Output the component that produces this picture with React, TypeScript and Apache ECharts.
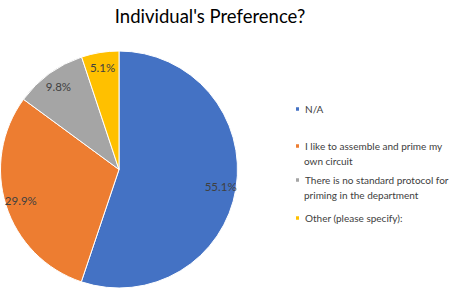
import React, { useEffect, useRef } from "react";
import * as echarts from "echarts";

const categories = [
  "N/A",
  "I like to assemble and prime my own circuit",
  "There is no standard protocol for priming in the department",
  "Other (please specify):",
];
const values = [55.1, 29.9, 9.8, 5.1];
const colors = ["#4472C4", "#ED7D31", "#A5A5A5", "#FFC000"];
const legendFirstLines = ["N/A", "I like to assemble and prime my", "There is no standard protocol for", "Other (please specify):"];
const legendSecondLines = ["", "own circuit", "priming in the department", ""];
const legendCenters = [109, 146, 180, 218];

const FONT = "Lato, 'Open Sans', sans-serif";
const TEXT = "#404040";
const LFS = 10;

export default function App() {
  const ref = useRef<HTMLDivElement>(null);
  useEffect(() => {
    if (!ref.current) return;
    const chart = echarts.init(ref.current, undefined, { renderer: "svg" });
    const data = categories.map((name, i) => ({ name, value: values[i], itemStyle: { color: colors[i] } }));
    const legends = categories.map((name, i) => ({
      data: [name],
      orient: "vertical",
      left: 294,
      top: legendCenters[i] - 7,
      icon: "rect",
      itemWidth: 5,
      itemHeight: 5.5,
      itemGap: 4,
      padding: 0,
      selectedMode: false,
      formatter: () => legendFirstLines[i],
      textStyle: { fontFamily: FONT, fontSize: LFS, color: TEXT, lineHeight: 14 },
    }));
    const graphics = legendSecondLines
      .map((t, i) => ({ t, i }))
      .filter((o) => o.t)
      .map(({ t, i }) => ({
        type: "text",
        left: 304,
        top: legendCenters[i] + 15 - 7,
        style: { text: t, fontFamily: FONT, fontSize: LFS, fill: TEXT, lineHeight: 14 },
      }));
    chart.setOption({
      animation: false,
      backgroundColor: "#ffffff",
      title: {
        text: "Individual's Preference?",
        left: 205,
        textAlign: "center",
        top: 1,
        textStyle: { fontFamily: FONT, fontSize: 18.5, fontWeight: "normal", color: "#000000" },
      },
      legend: legends,
      graphic: graphics,
      series: [
        {
          type: "pie",
          center: [119, 169.5],
          radius: [0, 118.5],
          startAngle: 90,
          clockwise: true,
          data,
          label: { show: false },
          labelLine: { show: false },
          itemStyle: { borderColor: "#ffffff", borderWidth: 1 },
          silent: true,
        },
        {
          type: "pie",
          center: [119, 169.5],
          radius: [0, 200],
          startAngle: 90,
          clockwise: true,
          data: categories.map((name, i) => ({ name: name + " ", value: values[i], itemStyle: { color: "transparent" } })),
          label: {
            show: true,
            position: "inside",
            formatter: (p: any) => p.value.toFixed(1) + "%",
            fontFamily: FONT,
            fontSize: 11.5,
            color: TEXT,
          },
          labelLine: { show: false },
          silent: true,
          z: 3,
        },
      ],
    });
    return () => chart.dispose();
  }, []);
  return <div ref={ref} style={{ width: 450, height: 289, position: "absolute", left: 0, top: 0 }} />;
}
